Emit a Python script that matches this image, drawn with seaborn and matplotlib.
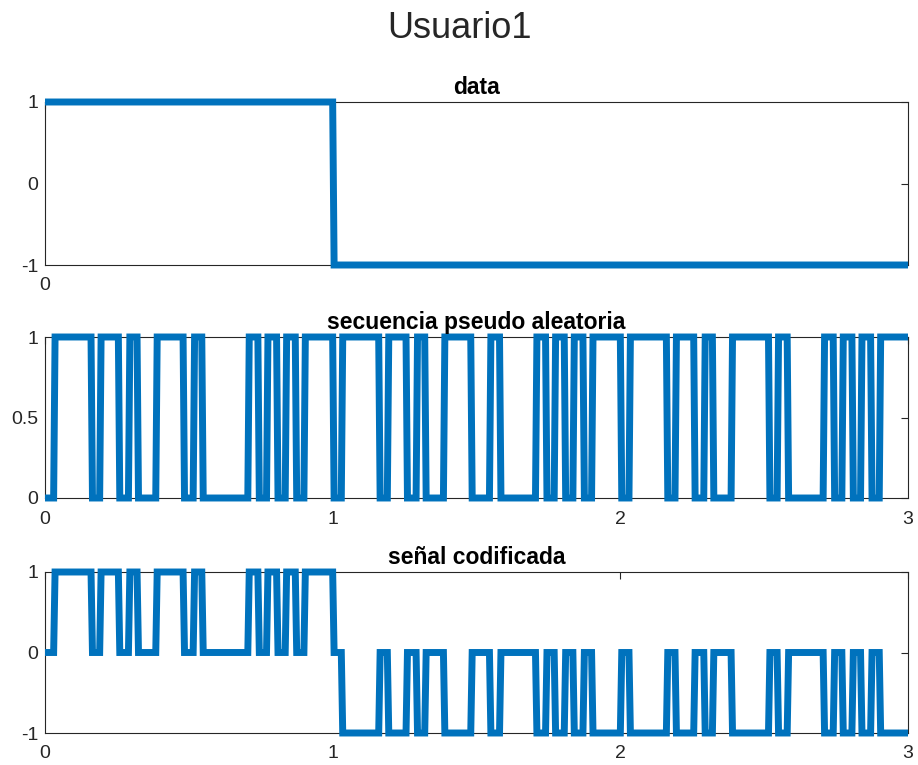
import numpy as np
import pandas as pd
import seaborn as sns
import matplotlib.pyplot as plt

# data bits (one per unit of time)
data_bits = [1, -1, -1]

# pseudo random chips, 31 per bit
pn_chips = [
    0, 1, 1, 1, 1, 0, 1, 1, 0, 1, 0, 0, 1, 1, 1, 0, 1, 0, 0, 0, 0, 0, 1, 0, 1, 0, 1, 0, 1, 1, 1,
    0, 1, 1, 1, 1, 0, 1, 1, 0, 1, 0, 0, 1, 1, 1, 0, 0, 1, 0, 0, 0, 0, 1, 0, 1, 0, 1, 0, 1, 1, 1,
    0, 1, 1, 1, 1, 0, 1, 1, 0, 1, 0, 0, 1, 1, 1, 1, 0, 1, 0, 0, 0, 0, 1, 0, 1, 0, 1, 0, 1, 1, 1,
]
chips_per_bit = 31

titles = ["data", "secuencia pseudo aleatoria", "señal codificada"]

# sampled signals, like the original plot(t, x)
t = np.linspace(0, 3, 601)
bit_idx = np.clip(np.ceil(t - 1e-9).astype(int) - 1, 0, len(data_bits) - 1)
chip_idx = np.clip(np.ceil(t * chips_per_bit - 1e-9).astype(int) - 1, 0, len(pn_chips) - 1)
data = np.array(data_bits)[bit_idx]
pn = np.array(pn_chips)[chip_idx]
coded = data * pn

df = pd.DataFrame({"t": t, "data": data, "pn": pn, "coded": coded})

sns.set_style("white")
plt.rcParams["font.family"] = ["Liberation Sans", "DejaVu Sans"]
plt.rcParams["axes.unicode_minus"] = False

blue = "#0072BD"
dark = "#262626"

fig = plt.figure(figsize=(9.18, 7.65), dpi=100)
L, W = 45 / 918, (908 - 45) / 918
axes = [
    fig.add_axes([L, 1 - 265 / 765, W, 163 / 765]),
    fig.add_axes([L, 1 - 498 / 765, W, 161 / 765]),
    fig.add_axes([L, 1 - 733 / 765, W, 161 / 765]),
]

for ax, col, title in zip(axes, ["data", "pn", "coded"], titles):
    sns.lineplot(data=df, x="t", y=col, ax=ax, color=blue, linewidth=5.0,
                 estimator=None, clip_on=False, zorder=3)
    for ln in ax.lines:
        ln.set_solid_joinstyle("miter")
        ln.set_solid_capstyle("butt")
    ax.set_xlim(0, 3)
    ax.set_title(title, fontsize=16.5, fontweight="bold", color="black", pad=6)
    ax.set_xlabel("")
    ax.set_ylabel("")
    ax.tick_params(direction="in", top=True, right=True, length=5, width=0.8,
                   colors=dark, labelsize=14)
    ax.tick_params(axis="x", pad=9)
    ax.tick_params(axis="y", pad=5)
    for s in ax.spines.values():
        s.set_color(dark)
        s.set_linewidth(0.8)

axes[0].set_ylim(-1, 1)
axes[0].set_yticks([-1, 0, 1])
axes[0].set_xticks([0])
axes[1].set_ylim(0, 1)
axes[1].set_yticks([0, 0.5, 1])
axes[1].set_yticklabels(["0", "0.5", "1"])
axes[1].set_xticks([0, 1, 2, 3])
axes[2].set_ylim(-1, 1)
axes[2].set_yticks([-1, 0, 1])
axes[2].set_xticks([0, 1, 2, 3])

fig.suptitle("Usuario1", fontsize=26, x=0.5, y=0.985)

fig.savefig("out.png", dpi=100)
